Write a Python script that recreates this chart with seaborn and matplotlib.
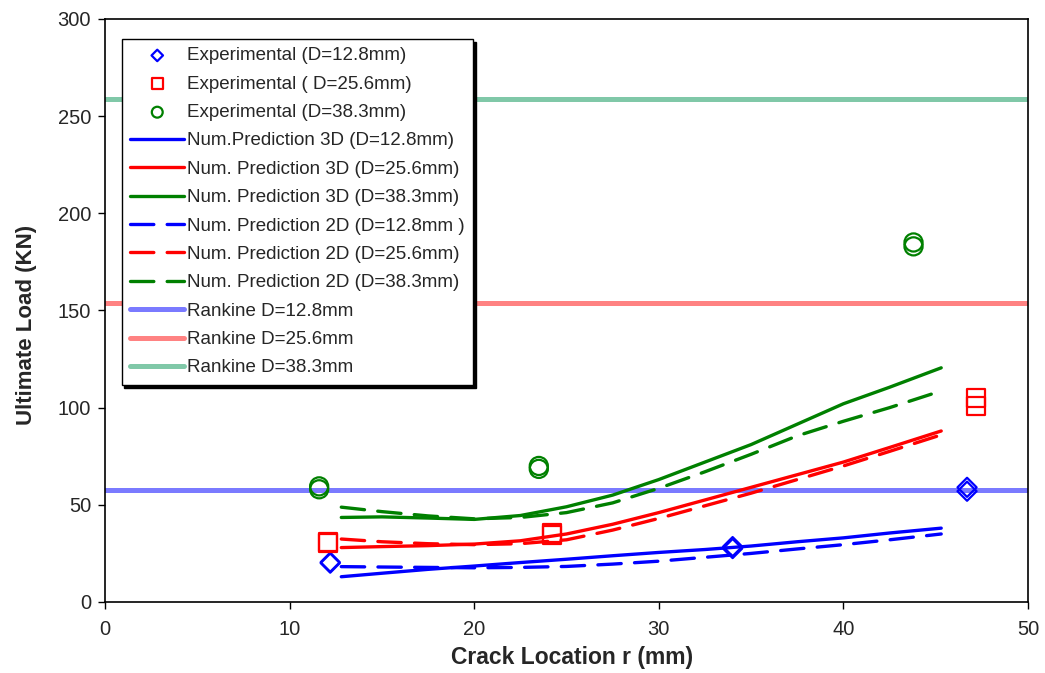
import matplotlib
matplotlib.use("Agg")
import matplotlib.pyplot as plt
import seaborn as sns

sns.set_theme(style="white")
plt.rcParams['font.family'] = ['Liberation Sans', 'DejaVu Sans']

# Experimental data
exp_x_128 = [12.2, 12.2, 34.0, 34.0, 46.7, 46.7]
exp_y_128 = [20.0, 20.5, 27.5, 28.5, 57.0, 59.0]
exp_x_256 = [12.1, 12.1, 24.2, 24.2, 47.2, 47.2]
exp_y_256 = [30.5, 31.0, 34.5, 35.5, 101.0, 105.0]
exp_x_383 = [11.6, 11.6, 23.5, 23.5, 43.8, 43.8]
exp_y_383 = [58.0, 59.5, 68.5, 70.0, 183.0, 185.0]

# Numerical predictions (crack location r)
num_x = [12.8, 15.0, 17.5, 20.0, 22.5, 25.0, 27.5, 30.0, 32.5, 35.0, 37.5, 40.0, 42.5, 45.3]
# 3D
p3d_128 = [13.0, 14.8, 16.8, 18.5, 20.3, 22.0, 23.8, 25.5, 27.0, 28.8, 31.0, 33.0, 35.5, 38.0]
p3d_256 = [28.0, 28.5, 29.0, 29.8, 31.5, 35.0, 40.0, 46.0, 52.5, 59.0, 65.5, 72.0, 79.5, 88.0]
p3d_383 = [43.5, 43.8, 43.2, 42.5, 44.5, 49.0, 55.0, 63.0, 72.0, 81.0, 91.5, 102.0, 110.5, 120.5]
# 2D
p2d_128 = [18.2, 18.0, 17.8, 17.6, 17.8, 18.3, 19.5, 21.0, 23.0, 25.0, 27.3, 29.5, 32.0, 35.0]
p2d_256 = [32.4, 31.0, 30.0, 29.5, 30.0, 32.0, 37.0, 43.0, 49.5, 56.0, 63.0, 70.0, 77.5, 86.0]
p2d_383 = [48.8, 46.5, 44.3, 42.8, 43.5, 46.0, 51.0, 58.5, 67.0, 76.0, 85.5, 93.0, 100.0, 108.6]

# Rankine
rankine_vals = [57.5, 154.0, 259.0]
rankine_labels = ["Rankine D=12.8mm", "Rankine D=25.6mm", "Rankine D=38.3mm"]

fig = plt.figure(figsize=(10.45, 6.73), dpi=100)
ax = fig.add_axes([0.1005, 0.1055, 0.8832, 0.8663])

blue, red, green = "#0000ff", "#ff0000", "#008000"
rk_colors = ["#7a7aff", "#ff8282", "#80c8a8"]

for v, c, l in zip(rankine_vals, rk_colors, rankine_labels):
    ax.axhline(v, color=c, lw=3.6, label=l, zorder=1)

sns.scatterplot(x=exp_x_128, y=exp_y_128, marker='D', s=95, facecolor='none',
                edgecolor=blue, linewidth=1.6, ax=ax, label="Experimental (D=12.8mm)", zorder=5)
sns.scatterplot(x=exp_x_256, y=exp_y_256, marker='s', s=170, facecolor='none',
                edgecolor=red, linewidth=1.6, ax=ax, label="Experimental ( D=25.6mm)", zorder=5)
sns.scatterplot(x=exp_x_383, y=exp_y_383, marker='o', s=170, facecolor='none',
                edgecolor=green, linewidth=1.6, ax=ax, label="Experimental (D=38.3mm)", zorder=5)

lw = 2.4
sns.lineplot(x=num_x, y=p3d_128, color=blue, lw=lw, ax=ax, label="Num.Prediction 3D (D=12.8mm)", zorder=3)
sns.lineplot(x=num_x, y=p3d_256, color=red, lw=lw, ax=ax, label="Num. Prediction 3D (D=25.6mm)", zorder=3)
sns.lineplot(x=num_x, y=p3d_383, color=green, lw=lw, ax=ax, label="Num. Prediction 3D (D=38.3mm)", zorder=3)
sns.lineplot(x=num_x, y=p2d_128, color=blue, lw=lw, ax=ax, label="Num. Prediction 2D (D=12.8mm )", zorder=3)
sns.lineplot(x=num_x, y=p2d_256, color=red, lw=lw, ax=ax, label="Num. Prediction 2D (D=25.6mm)", zorder=3)
sns.lineplot(x=num_x, y=p2d_383, color=green, lw=lw, ax=ax, label="Num. Prediction 2D (D=38.3mm)", zorder=3)
for ln in ax.get_lines()[-3:]:
    ln.set_dashes((7, 4))
    ln.set_solid_capstyle('round')
    ln.set_dash_capstyle('round')

ax.set_xlim(0, 50)
ax.set_ylim(0, 300)
ax.set_xticks(range(0, 51, 10))
ax.set_yticks(range(0, 301, 50))
ax.tick_params(axis='both', which='both', direction='out', length=5, width=1,
               labelsize=14.5, color='black', bottom=True, left=True, pad=5)
ax.tick_params(axis='x', pad=8)
for s in ax.spines.values():
    s.set_color('black')
    s.set_linewidth(1.2)
ax.set_xlabel("Crack Location r (mm)", fontsize=16.5, fontweight='bold')
ax.set_ylabel("Ultimate Load (KN)", fontsize=16, fontweight='bold')
ax.xaxis.set_label_coords(0.506, -0.076)
ax.yaxis.set_label_coords(-0.074, 0.475)

handles, labels = ax.get_legend_handles_labels()
want = ["Experimental (D=12.8mm)", "Experimental ( D=25.6mm)", "Experimental (D=38.3mm)",
        "Num.Prediction 3D (D=12.8mm)", "Num. Prediction 3D (D=25.6mm)", "Num. Prediction 3D (D=38.3mm)",
        "Num. Prediction 2D (D=12.8mm )", "Num. Prediction 2D (D=25.6mm)", "Num. Prediction 2D (D=38.3mm)"] + rankine_labels
hd = dict(zip(labels, handles))
leg = ax.legend([hd[w] for w in want], want, loc='upper left', bbox_to_anchor=(0.018, 0.966),
                fontsize=13.5, frameon=True, fancybox=False,
                shadow={'color': 'black', 'alpha': 1.0}, framealpha=1,
                edgecolor='black', handlelength=2.9, handletextpad=0.15, labelspacing=0.6,
                borderpad=0.45, markerscale=0.6, borderaxespad=0)
leg.get_frame().set_linewidth(1.0)

fig.savefig("out.png", dpi=100)
